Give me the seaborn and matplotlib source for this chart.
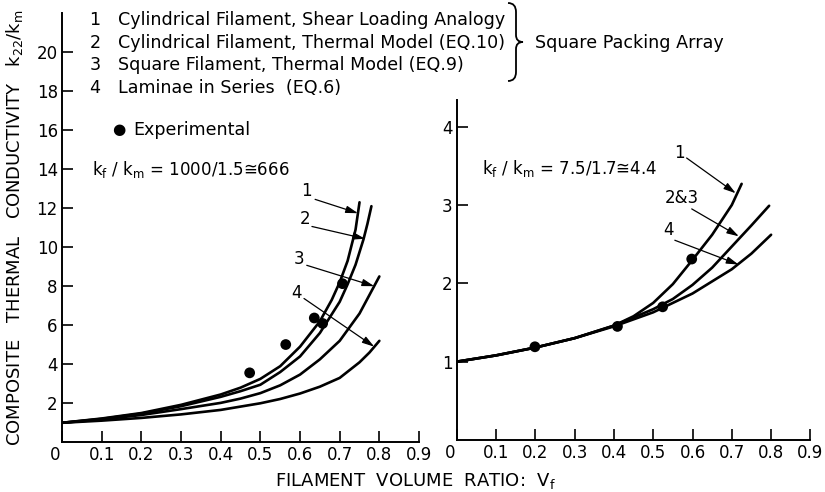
import numpy as np
import seaborn as sns
import matplotlib.pyplot as plt
import matplotlib.transforms as mtransforms
from matplotlib.path import Path
from matplotlib.patches import PathPatch

# ---- left panel, kf/km = 666 ----
left_x1 = [0, 0.1, 0.2, 0.3, 0.4, 0.45, 0.5, 0.55, 0.6, 0.65, 0.68, 0.7, 0.72, 0.74, 0.75]
left_y1 = [1.0, 1.22, 1.5, 1.92, 2.45, 2.8, 3.25, 3.9, 4.9, 6.2, 7.3, 8.2, 9.3, 10.9, 12.3]

left_x2 = [0, 0.1, 0.2, 0.3, 0.4, 0.45, 0.5, 0.55, 0.6, 0.65, 0.7, 0.72, 0.74, 0.76, 0.77, 0.78]
left_y2 = [1.0, 1.2, 1.47, 1.85, 2.33, 2.62, 2.95, 3.6, 4.4, 5.6, 7.2, 8.1, 9.1, 10.4, 11.2, 12.1]

left_x3 = [0, 0.1, 0.2, 0.3, 0.4, 0.45, 0.5, 0.55, 0.6, 0.65, 0.7, 0.75, 0.8]
left_y3 = [1.0, 1.17, 1.4, 1.7, 2.02, 2.24, 2.52, 2.92, 3.47, 4.25, 5.2, 6.6, 8.5]

left_x4 = [0, 0.1, 0.2, 0.3, 0.4, 0.5, 0.55, 0.6, 0.65, 0.7, 0.75, 0.775, 0.8]
left_y4 = [1.0, 1.11, 1.25, 1.43, 1.66, 2.0, 2.22, 2.5, 2.85, 3.3, 4.1, 4.6, 5.2]

left_exp_x = [0.473, 0.564, 0.636, 0.657, 0.707]
left_exp_y = [3.56, 5.01, 6.37, 6.09, 8.13]

# ---- right panel, kf/km = 4.4 ----
right_x1 = [0, 0.1, 0.2, 0.3, 0.4, 0.45, 0.5, 0.55, 0.6, 0.65, 0.7, 0.725]
right_y1 = [1.0, 1.08, 1.18, 1.3, 1.46, 1.58, 1.75, 1.99, 2.3, 2.62, 3.0, 3.27]

right_x23 = [0, 0.1, 0.2, 0.3, 0.4, 0.5, 0.55, 0.6, 0.65, 0.7, 0.75, 0.795]
right_y23 = [1.0, 1.08, 1.18, 1.3, 1.46, 1.67, 1.8, 1.98, 2.2, 2.47, 2.74, 2.99]

right_x4 = [0, 0.1, 0.2, 0.3, 0.4, 0.5, 0.6, 0.7, 0.75, 0.8]
right_y4 = [1.0, 1.08, 1.18, 1.3, 1.45, 1.63, 1.87, 2.18, 2.38, 2.62]

right_exp_x = [0.199, 0.409, 0.524, 0.598]
right_exp_y = [1.19, 1.45, 1.70, 2.31]

xtick_vals = [0, 0.1, 0.2, 0.3, 0.4, 0.5, 0.6, 0.7, 0.8, 0.9]
xtick_labels = ['0', '0.1', '0.2', '0.3', '0.4', '0.5', '0.6', '0.7', '0.8', '0.9']
left_yticks = [2, 4, 6, 8, 10, 12, 14, 16, 18, 20]
right_yticks = [1, 2, 3, 4]

legend_nums = ['1', '2', '3', '4']
legend_texts = ['Cylindrical Filament, Shear Loading Analogy',
                'Cylindrical Filament, Thermal Model (EQ.10)',
                'Square Filament, Thermal Model (EQ.9)',
                'Laminae in Series  (EQ.6)']

# curve labels: (text, label pos, arrow tail, arrow head)
left_labels = [('1', (0.617, 12.9), (0.638, 12.45), (0.746, 11.74)),
               ('2', (0.613, 11.46), (0.63, 11.06), (0.764, 10.43)),
               ('3', (0.598, 9.41), (0.617, 9.07), (0.787, 8.0)),
               ('4', (0.592, 7.65), (0.61, 7.37), (0.787, 4.9))]
right_labels = [('1', (0.568, 3.66), (0.585, 3.6), (0.71, 3.15)),
                ('2&3', (0.572, 3.09), (0.598, 2.95), (0.718, 2.6)),
                ('4', (0.538, 2.68), (0.555, 2.55), (0.717, 2.24))]

sns.set_theme(style='ticks')
plt.rcParams['font.family'] = ['DejaVu Sans']
plt.rcParams['mathtext.fontset'] = 'dejavusans'
plt.rcParams['mathtext.default'] = 'regular'
plt.rcParams['axes.edgecolor'] = 'black'
plt.rcParams['text.color'] = 'black'
plt.rcParams['axes.labelcolor'] = 'black'

fig = plt.figure(figsize=(8.25, 4.92), dpi=100)
ax1 = fig.add_axes([0.0752, 0.101, 0.4327, 0.8726])
ax2 = fig.add_axes([0.5536, 0.1057, 0.4287, 0.691])

for xs, ys in [(left_x1, left_y1), (left_x2, left_y2), (left_x3, left_y3), (left_x4, left_y4)]:
    sns.lineplot(x=xs, y=ys, ax=ax1, color='black', lw=1.9, estimator=None, sort=False)
sns.scatterplot(x=left_exp_x, y=left_exp_y, ax=ax1, color='black', s=60, edgecolor='none', zorder=3)

for xs, ys in [(right_x1, right_y1), (right_x23, right_y23), (right_x4, right_y4)]:
    sns.lineplot(x=xs, y=ys, ax=ax2, color='black', lw=1.9, estimator=None, sort=False)
sns.scatterplot(x=right_exp_x, y=right_exp_y, ax=ax2, color='black', s=60, edgecolor='none', zorder=3)

ax1.set_ylim(0, 22)
ax1.set_yticks(left_yticks)
ax2.set_ylim(0, 4.34)
ax2.set_yticks(right_yticks)

for ax in (ax1, ax2):
    sns.despine(ax=ax)
    ax.set_xlim(0, 0.9)
    ax.set_xticks(xtick_vals)
    ax.set_xticklabels(xtick_labels)
    ax.spines['left'].set_linewidth(1.4)
    ax.spines['bottom'].set_linewidth(1.4)
    ax.tick_params(direction='in', length=8, width=1.2, labelsize=12, pad=3, colors='black')
    ax.set_facecolor('white')
    # the "0" label sits a little left of its tick in the original
    zero = ax.get_xticklabels()[0]
    zero.set_transform(zero.get_transform() +
                       mtransforms.ScaledTranslation(-7 / 100, 0, fig.dpi_scale_trans))

for labels, ax in [(left_labels, ax1), (right_labels, ax2)]:
    for txt, pos, tail, head in labels:
        ax.text(pos[0], pos[1], txt, fontsize=12, ha='center', va='center')
        ax.annotate('', xy=head, xytext=tail,
                    arrowprops=dict(arrowstyle='-|>,head_length=0.6,head_width=0.18',
                                    color='black', lw=0.9, shrinkA=0, shrinkB=0))

ax1.text(0.076, 14.0, r'k$_f$ / k$_m$ = 1000/1.5≅666', fontsize=12, va='center')
ax2.text(0.064, 3.47, r'k$_f$ / k$_m$ = 7.5/1.7≅4.4', fontsize=12, va='center')

ax1.set_ylabel(r'COMPOSITE   THERMAL   CONDUCTIVITY   k$_{22}$/k$_m$', fontsize=13)
ax1.yaxis.set_label_coords(-0.105, 0.5)
fig.text(0.503, 0.022, r'FILAMENT  VOLUME  RATIO:  V$_f$', fontsize=13, ha='center', va='center')

# legend block at top
row_y = [20, 43, 65, 88]
for num, txt, y in zip(legend_nums, legend_texts, row_y):
    fig.text(95 / 825, 1 - y / 492, num, fontsize=12.6, ha='center', va='center')
    fig.text(118 / 825, 1 - y / 492, txt, fontsize=12.6, ha='left', va='center')
fig.text(112 / 825, 1 - 130 / 492, '●', fontsize=11, ha='left', va='center')
fig.text(133 / 825, 1 - 130 / 492, 'Experimental', fontsize=12.6, ha='left', va='center')


# brace grouping the first three rows
def px(x, y):
    return (x / 825, 1 - y / 492)


verts = [px(508, 3),
         px(516, 3), px(516, 12),
         px(516, 35),
         px(516, 42), px(523, 42),
         px(516, 42), px(516, 49),
         px(516, 72),
         px(516, 81), px(508, 81)]
codes = [Path.MOVETO,
         Path.CURVE3, Path.CURVE3,
         Path.LINETO,
         Path.CURVE3, Path.CURVE3,
         Path.CURVE3, Path.CURVE3,
         Path.LINETO,
         Path.CURVE3, Path.CURVE3]
fig.add_artist(PathPatch(Path(verts, codes), transform=fig.transFigure,
                         facecolor='none', edgecolor='black', lw=1.3))
fig.text(535 / 825, 1 - 43 / 492, 'Square Packing Array', fontsize=12.6, ha='left', va='center')

fig.savefig('out.png', dpi=100)
